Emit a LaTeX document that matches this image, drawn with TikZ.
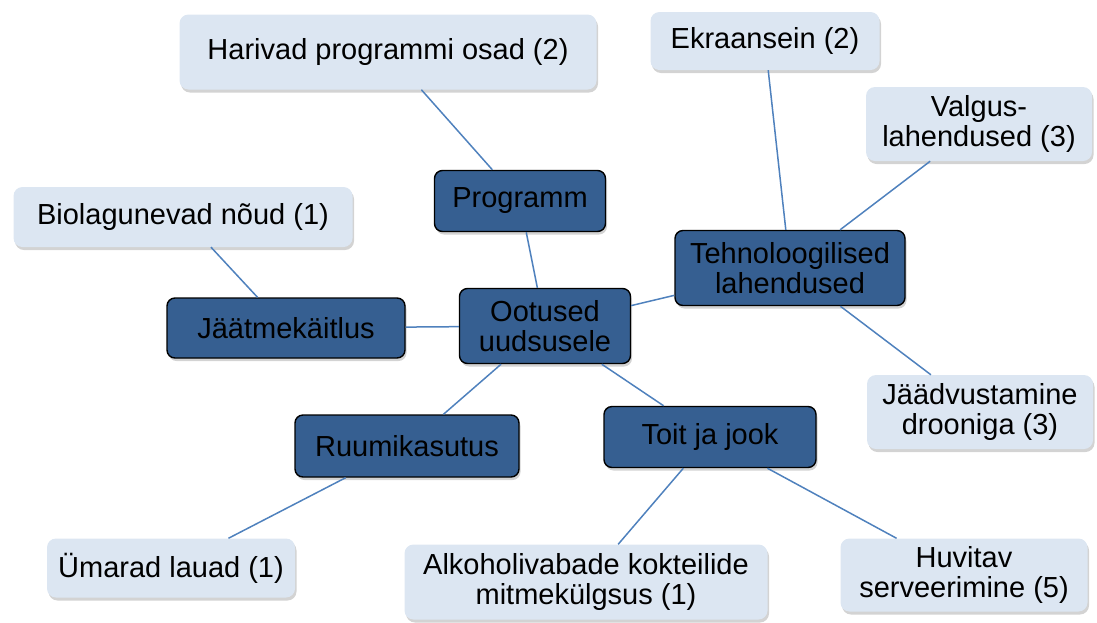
\documentclass[tikz,border=0pt]{standalone}
\usepackage{fontspec}
\setmainfont{Liberation Sans}
\usetikzlibrary{shadows}
\definecolor{tumesinine}{HTML}{365F91}
\definecolor{helesinine}{HTML}{DCE6F2}
\definecolor{joon}{HTML}{4F81BD}

\begin{document}
\begin{tikzpicture}[x=1pt, y=-1pt]
  \tikzset{
    teema/.style={rectangle,rounded corners=8pt,draw=black,fill=tumesinine,line width=1.4pt,align=center,inner sep=0pt,font=\fontsize{29}{29.5}\selectfont,drop shadow={shadow xshift=1.5pt,shadow yshift=-3pt,opacity=0.35}},
    idee/.style={rectangle,rounded corners=9pt,fill=helesinine,align=center,inner sep=0pt,font=\fontsize{29}{29.5}\selectfont,drop shadow={shadow xshift=1.5pt,shadow yshift=-3pt,opacity=0.35}},
    seos/.style={draw=joon,line width=1.5pt}
  }
  \useasboundingbox (0,0) rectangle (1097,622);
  \node[teema,minimum width=171,minimum height=75] (ootused) at (545,326) {Ootused\\uudsusele};
  \node[teema,minimum width=171,minimum height=61] (programm) at (520,201) {Programm};
  \node[teema,minimum width=230,minimum height=75] (tehno) at (790,268) {Tehnoloogilised\\lahendused};
  \node[teema,minimum width=238,minimum height=60] (jaatme) at (286,328) {Jäätmekäitlus};
  \node[teema,minimum width=224,minimum height=62] (ruumi) at (407,446) {Ruumikasutus};
  \node[teema,minimum width=212,minimum height=61] (toit) at (710,437) {Toit ja jook};
  \node[idee,minimum width=417,minimum height=75] (harivad) at (388,52) {Harivad programmi osad (2)};
  \node[idee,minimum width=229,minimum height=58] (ekraan) at (765,41) {Ekraansein (2)};
  \node[idee,minimum width=226,minimum height=74] (valgus) at (979,124) {Valgus-\\lahendused (3)};
  \node[idee,minimum width=339,minimum height=60] (bio) at (183,217) {Biolagunevad nõud (1)};
  \node[idee,minimum width=226,minimum height=74] (droon) at (980,412) {Jäädvustamine\\drooniga (3)};
  \node[idee,minimum width=248,minimum height=59] (umarad) at (171,568) {Ümarad lauad (1)};
  \node[idee,minimum width=363,minimum height=75] (alkohol) at (586,582) {Alkoholivabade kokteilide\\mitmekülgsus (1)};
  \node[idee,minimum width=247,minimum height=73] (huvitav) at (964,575) {Huvitav\\serveerimine (5)};
  \draw[seos] (ootused) -- (programm);
  \draw[seos] (programm) -- (harivad);
  \draw[seos] (ootused) -- (jaatme);
  \draw[seos] (jaatme) -- (bio);
  \draw[seos] (ootused) -- (tehno);
  \draw[seos] (tehno) -- (ekraan);
  \draw[seos] (tehno) -- (valgus);
  \draw[seos] (tehno) -- (droon);
  \draw[seos] (ootused) -- (ruumi);
  \draw[seos] (ruumi) -- (umarad);
  \draw[seos] (ootused) -- (toit);
  \draw[seos] (toit) -- (alkohol);
  \draw[seos] (toit) -- (huvitav);
\end{tikzpicture}
\end{document}
